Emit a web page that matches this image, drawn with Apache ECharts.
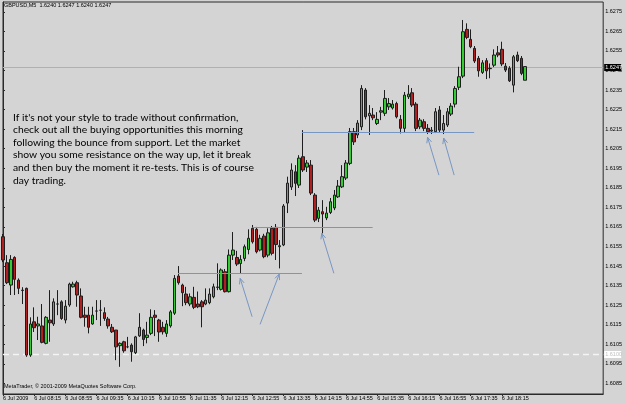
<!DOCTYPE html>
<html><head><meta charset="utf-8">
<script src="https://cdn.jsdelivr.net/npm/echarts@6/dist/echarts.min.js"></script>
<style>html,body{margin:0;padding:0;background:#d4d4d4}#c{width:625px;height:403px}</style>
</head><body><div id="c"></div>
<script>
// ---- data ----
const xTickLabels = ['6 Jul 2009','6 Jul 08:15','6 Jul 08:55','6 Jul 09:35','6 Jul 10:15','6 Jul 10:55','6 Jul 11:35','6 Jul 12:15','6 Jul 12:55','6 Jul 13:35','6 Jul 14:15','6 Jul 14:55','6 Jul 15:35','6 Jul 16:15','6 Jul 16:55','6 Jul 17:35','6 Jul 18:15'];
const yTicks = [1.6085,1.6095,1.6105,1.6115,1.6125,1.6135,1.6145,1.6155,1.6165,1.6175,1.6185,1.6195,1.6205,1.6215,1.6225,1.6235,1.6245,1.6255,1.6265,1.6275];
const openP = [
1.61600,1.61467,1.61353,1.61494,1.61378,1.61327,1.61336,1.60995,1.61165,1.61144,
1.61144,1.61055,1.61174,1.61154,1.61256,1.61267,1.61174,1.61251,1.61344,1.61365,
1.61297,1.61199,1.61199,1.61154,1.61220,1.61224,1.61212,1.61179,1.61137,1.61123,
1.61043,1.61063,1.61037,1.61046,1.61007,1.61093,1.61123,1.61085,1.61106,1.61199,
1.61174,1.61137,1.61106,1.61144,1.61209,1.61399,1.61353,1.61307,1.61256,1.61290,
1.61256,1.61267,1.61256,1.61263,1.61293,1.61341,1.61331,1.61421,1.61319,1.61506,
1.61494,1.61463,1.61489,1.61535,1.61643,1.61638,1.61532,1.61603,1.61506,1.61643,
1.61648,1.61549,1.61558,1.61772,1.61854,1.61932,1.61864,1.62009,1.61956,1.61966,
1.61813,1.61694,1.61728,1.61696,1.61724,1.61747,1.61804,1.61855,1.61900,1.61975,
1.62137,1.62120,1.62162,1.62350,1.62218,1.62222,1.62179,1.62237,1.62231,1.62264,
1.62258,1.62281,1.62200,1.62154,1.62315,1.62336,1.62278,1.62162,1.62188,1.62154,
1.62140,1.62137,1.62248,1.62145,1.62171,1.62227,1.62278,1.62364,1.62421,1.62660,
1.62609,1.62563,1.62512,1.62440,1.62500,1.62461,1.62477,1.62540,1.62558,1.62472,
1.62461,1.62375,1.62529,1.62512,1.62400];
const closeP = [
1.61481,1.61365,1.61484,1.61382,1.61336,1.61325,1.60995,1.61154,1.61135,1.61154,
1.61060,1.61188,1.61160,1.61267,1.61256,1.61182,1.61245,1.61358,1.61358,1.61302,
1.61188,1.61188,1.61137,1.61199,1.61220,1.61224,1.61182,1.61144,1.61114,1.61037,
1.61055,1.61017,1.61037,1.61012,1.61088,1.61137,1.61075,1.61097,1.61188,1.61188,
1.61113,1.61114,1.61154,1.61216,1.61387,1.61365,1.61314,1.61263,1.61293,1.61239,
1.61242,1.61242,1.61276,1.61307,1.61344,1.61343,1.61430,1.61319,1.61506,1.61532,
1.61460,1.61484,1.61549,1.61592,1.61574,1.61523,1.61592,1.61498,1.61620,1.61515,
1.61560,1.61554,1.61757,1.61874,1.61941,1.61873,1.62002,1.61941,1.61977,1.61823,
1.61685,1.61736,1.61716,1.61721,1.61779,1.61813,1.61859,1.61907,1.61977,1.62137,
1.62085,1.62181,1.62358,1.62213,1.62231,1.62208,1.62200,1.62244,1.62307,1.62281,
1.62278,1.62213,1.62154,1.62324,1.62329,1.62273,1.62154,1.62196,1.62154,1.62137,
1.62145,1.62239,1.62145,1.62179,1.62239,1.62268,1.62358,1.62418,1.62648,1.62619,
1.62571,1.62498,1.62448,1.62489,1.62448,1.62459,1.62529,1.62529,1.62483,1.62452,
1.62397,1.62520,1.62500,1.62435,1.62470];
const highP = [
1.61614,1.61506,1.61506,1.61500,1.61387,1.61342,1.61340,1.61188,1.61239,1.61191,
1.61256,1.61194,1.61327,1.61285,1.61327,1.61275,1.61276,1.61365,1.61370,1.61375,
1.61336,1.61242,1.61242,1.61242,1.61276,1.61276,1.61239,1.61190,1.61154,1.61123,
1.61060,1.61068,1.61088,1.61055,1.61093,1.61209,1.61130,1.61165,1.61229,1.61225,
1.61180,1.61165,1.61174,1.61225,1.61404,1.61450,1.61360,1.61344,1.61310,1.61344,
1.61320,1.61276,1.61336,1.61336,1.61360,1.61464,1.61438,1.61435,1.61535,1.61624,
1.61528,1.61506,1.61560,1.61638,1.61660,1.61650,1.61610,1.61615,1.61643,1.61655,
1.61665,1.61583,1.61767,1.61907,1.61975,1.61966,1.62017,1.62145,1.61992,1.61992,
1.61823,1.61752,1.61787,1.61753,1.61798,1.61839,1.61890,1.61966,1.61992,1.62156,
1.62156,1.62196,1.62375,1.62360,1.62273,1.62258,1.62237,1.62264,1.62350,1.62309,
1.62299,1.62290,1.62222,1.62340,1.62375,1.62360,1.62288,1.62207,1.62201,1.62176,
1.62161,1.62258,1.62268,1.62222,1.62258,1.62283,1.62370,1.62469,1.62708,1.62691,
1.62660,1.62575,1.62524,1.62503,1.62513,1.62486,1.62558,1.62575,1.62597,1.62488,
1.62472,1.62529,1.62546,1.62524,1.62470];
const lowP = [
1.61470,1.61358,1.61302,1.61302,1.61307,1.61256,1.60986,1.60986,1.61113,1.61072,
1.61055,1.61050,1.61063,1.61144,1.61199,1.61175,1.61157,1.61242,1.61340,1.61242,
1.61183,1.61140,1.61106,1.61150,1.61174,1.61144,1.61170,1.61130,1.61108,1.60969,
1.60935,1.61007,1.61030,1.60961,1.61000,1.61088,1.61041,1.61055,1.61097,1.61092,
1.61063,1.61100,1.61088,1.61135,1.61200,1.61355,1.61245,1.61250,1.61245,1.61230,
1.61235,1.61137,1.61250,1.61255,1.61285,1.61327,1.61325,1.61315,1.61315,1.61481,
1.61450,1.61413,1.61475,1.61510,1.61565,1.61515,1.61525,1.61490,1.61495,1.61505,
1.61481,1.61438,1.61552,1.61721,1.61839,1.61808,1.61849,1.61931,1.61931,1.61813,
1.61675,1.61675,1.61617,1.61685,1.61716,1.61736,1.61798,1.61849,1.61890,1.61966,
1.62069,1.62104,1.62145,1.62200,1.62120,1.62196,1.62171,1.62196,1.62217,1.62248,
1.62250,1.62205,1.62128,1.62135,1.62304,1.62263,1.62140,1.62150,1.62140,1.62125,
1.62125,1.62130,1.62135,1.62125,1.62161,1.62217,1.62261,1.62350,1.62411,1.62610,
1.62564,1.62488,1.62418,1.62432,1.62406,1.62410,1.62467,1.62518,1.62472,1.62442,
1.62391,1.62338,1.62493,1.62426,1.62400];
// support / resistance levels: [fromBar, price, toBar, price]
const levelLines = [[44.9,1.61413,76.7,1.61413],[64.0,1.61651,94.85,1.61651],[76.7,1.62133,120.9,1.62133]];
// arrows: [headBar, headPrice, tailBar, tailPrice]
const arrows = [[60.86,1.61387,63.92,1.61191],[70.88,1.61409,65.96,1.61152],[81.77,1.61617,84.9,1.61413],[108.95,1.62108,111.85,1.61915],[113.08,1.62104,115.76,1.61915]];
// price lines: [price, kind]
const priceLines = [[1.6247, 'bid'], [1.6100, 'alert']];
const headerText = 'GBPUSD,M5  1.6240 1.6247 1.6240 1.6247';
const footerText = 'MetaTrader, \u00a9 2001-2009 MetaQuotes Software Corp.';
const noteLines = ["If it's not your style to trade without confirmation,","check out all the buying opportunities this morning","following the bounce from support. Let the market","show you some resistance on the way up, let it break","and then buy the moment it re-tests. This is of course","day trading."];
const totalSlots = 155;

// ---- build ----
const cats = [];
for (let i = 0; i < totalSlots; i++) { const m = 455 + 5 * i; cats.push(String(Math.floor(m/60)).padStart(2,'0') + ':' + String(m%60).padStart(2,'0')); }
const candles = openP.map((o, i) => [o, closeP[i], lowP[i], highP[i]]);
const smallFont = '"Liberation Sans Narrow","Liberation Sans",Arial,sans-serif';
const blue = '#7896c4';
const showTick = (i) => i % 8 === 0 && i / 8 < xTickLabels.length;

const chart = echarts.init(document.getElementById('c'), null, {renderer: 'canvas'});
chart.setOption({
  animation: false,
  backgroundColor: '#d4d4d4',
  grid: {left: 2, right: 19, top: 2, bottom: 9, show: true, borderColor: '#2a2a2a', borderWidth: 1, backgroundColor: 'transparent'},
  xAxis: [{
    type: 'category', data: cats, boundaryGap: false,
    axisLine: {show: true, lineStyle: {color: '#2a2a2a'}},
    axisTick: {show: true, length: 2, interval: showTick, lineStyle: {color: '#2a2a2a'}},
    axisLabel: {interval: showTick, formatter: (v, i) => xTickLabels[i / 8] || '', fontSize: 5.5, fontFamily: smallFont, color: '#000', align: 'left', margin: 1, showMinLabel: true, showMaxLabel: true, hideOverlap: false},
    splitLine: {show: false}
  }, {
    type: 'value', min: 0, max: totalSlots - 1, show: false
  }],
  yAxis: {
    type: 'value', position: 'right', min: 1.60796, max: 1.62800, scale: true,
    axisLine: {show: true, lineStyle: {color: '#2a2a2a'}},
    axisTick: {show: true, length: 2, customValues: yTicks, lineStyle: {color: '#2a2a2a'}},
    axisLabel: {customValues: yTicks, formatter: (v) => v.toFixed(4), fontSize: 5.5, fontFamily: smallFont, color: '#000', margin: 2},
    splitLine: {show: false}
  },
  series: [{
    type: 'custom', xAxisIndex: 1, silent: true, clip: false, z: 1, data: priceLines,
    encode: {y: 0},
    renderItem: (params, api) => {
      const p = api.value(0);
      const kind = priceLines[params.dataIndex][1];
      const a = api.coord([0, p]);
      const b = api.coord([totalSlots - 1, p]);
      const y = Math.round(a[1]) + 0.5;
      const bid = kind === 'bid';
      return {type: 'group', children: [
        {type: 'line', shape: {x1: a[0], y1: y, x2: b[0], y2: y},
         style: bid ? {stroke: '#b0b0b0', lineWidth: 1} : {stroke: '#f4f4f4', lineWidth: 1.5, lineDash: [6, 4]}},
        {type: 'rect', shape: {x: b[0] + 1, y: y - 3.5, width: 17, height: 7},
         style: {fill: bid ? '#000' : '#fff'}},
        {type: 'text', x: b[0] + 2, y: y, style: {text: p.toFixed(4), fontSize: 5.5, fontFamily: smallFont, fill: bid ? '#fff' : '#c0c0c0', verticalAlign: 'middle', align: 'left'}}
      ]};
    }
  }, {
    type: 'candlestick', data: candles, barWidth: 3, silent: true, z: 2,
    itemStyle: {color: '#33cc33', color0: '#b02020', borderColor: '#1e1e1e', borderColor0: '#1e1e1e', borderWidth: 1}
  }, {
    type: 'custom', xAxisIndex: 1, silent: true, z: 3, data: levelLines,
    encode: {x: [0, 2], y: [1, 3]},
    renderItem: (params, api) => {
      const a = api.coord([api.value(0), api.value(1)]);
      const b = api.coord([api.value(2), api.value(3)]);
      return {type: 'line', shape: {x1: a[0], y1: Math.round(a[1]) + 0.5, x2: b[0], y2: Math.round(b[1]) + 0.5}, style: {stroke: blue, lineWidth: 1}};
    }
  }, {
    type: 'custom', xAxisIndex: 1, silent: true, z: 3, data: arrows,
    encode: {x: [0, 2], y: [1, 3]},
    renderItem: (params, api) => {
      const h = api.coord([api.value(0), api.value(1)]);
      const t = api.coord([api.value(2), api.value(3)]);
      const dx = t[0] - h[0], dy = t[1] - h[1], len = Math.hypot(dx, dy);
      const ux = dx / len, uy = dy / len, L = 6, ang = 0.42;
      const r = (s) => [h[0] + L * (ux * Math.cos(s) - uy * Math.sin(s)), h[1] + L * (ux * Math.sin(s) + uy * Math.cos(s))];
      const p1 = r(ang), p2 = r(-ang);
      return {type: 'group', children: [
        {type: 'line', shape: {x1: h[0], y1: h[1], x2: t[0], y2: t[1]}, style: {stroke: blue, lineWidth: 1}},
        {type: 'polyline', shape: {points: [p1, h, p2]}, style: {stroke: blue, lineWidth: 1, fill: null}}
      ]};
    }
  }],
  graphic: [
    {type: 'text', left: 4, top: 2, silent: true, style: {text: headerText, fontSize: 5.5, fontFamily: smallFont, fill: '#000'}},
    {type: 'text', left: 4, top: 383, silent: true, style: {text: footerText, fontSize: 5.5, fontFamily: smallFont, fill: '#000'}},
    {type: 'text', left: 13, top: 111, silent: true, style: {text: noteLines.join('\n'), fontSize: 10.3, fontFamily: 'Lato', lineHeight: 12.6, fill: '#000'}}
  ]
});
</script></body></html>
